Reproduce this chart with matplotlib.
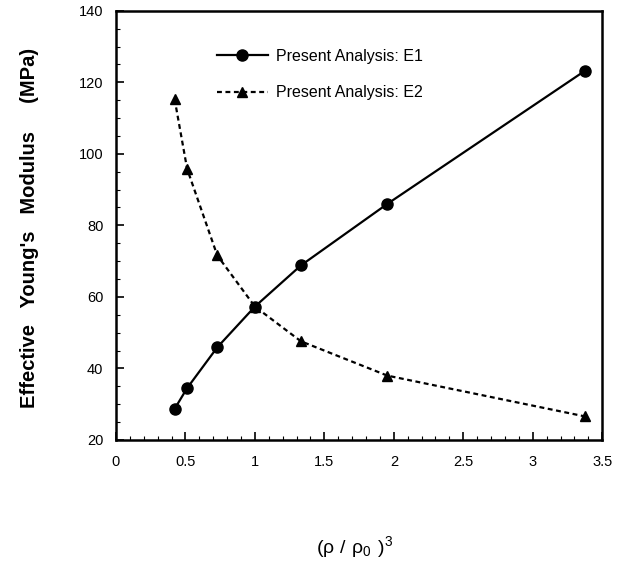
import matplotlib
matplotlib.use("Agg")
import matplotlib.pyplot as plt
from matplotlib.ticker import MultipleLocator

# (rho/rho0)^3 values and moduli
x_vals = [0.422, 0.512, 0.729, 1.0, 1.331, 1.953, 3.375]
e1_vals = [28.7, 34.5, 45.9, 57.3, 68.8, 86.0, 123.2]
e2_vals = [115.3, 95.8, 71.6, 57.3, 47.6, 38.0, 26.6]

plt.rcParams["font.family"] = ["Liberation Sans", "DejaVu Sans"]

fig = plt.figure(figsize=(6.17, 5.67), dpi=100)
ax = fig.add_axes([0.188, 0.224, 0.788, 0.757])

ax.plot(x_vals, e1_vals, "-", color="black", lw=1.6, marker="o", ms=8,
        label="Present Analysis: E1")
ax.plot(x_vals, e2_vals, color="black", lw=1.6, ls=(0, (2.2, 1.6)), marker="^", ms=7,
        label="Present Analysis: E2")

ax.set_xlim(0, 3.5)
ax.set_ylim(20, 140)
ax.xaxis.set_major_locator(MultipleLocator(0.5))
ax.xaxis.set_minor_locator(MultipleLocator(0.1))
ax.yaxis.set_major_locator(MultipleLocator(20))
ax.yaxis.set_minor_locator(MultipleLocator(5))
ax.set_xticks([0, 0.5, 1, 1.5, 2, 2.5, 3, 3.5])
ax.set_xticklabels(["0", "0.5", "1", "1.5", "2", "2.5", "3", "3.5"])

ax.tick_params(which="major", direction="in", length=6, width=1.2, labelsize=10.5)
ax.tick_params(axis="x", which="major", pad=11)
ax.tick_params(axis="y", which="major", pad=9)
ax.tick_params(which="minor", direction="in", length=3, width=0.8)
ax.tick_params(top=False, right=False, which="both")
for s in ax.spines.values():
    s.set_linewidth(1.8)

ax.set_ylabel("Effective   Young's   Modulus     (MPa)", fontsize=14.5, fontweight="bold")
ax.yaxis.set_label_coords(-0.158, 0.495)
ax.set_xlabel(r"$\mathregular{(\rho\ /\ \rho_0\ )^3}$", fontsize=14)
ax.xaxis.set_label_coords(0.49, -0.22)

ax.legend(loc="upper left", bbox_to_anchor=(0.178, 0.945), frameon=False, fontsize=11.5,
          handlelength=3.2, handletextpad=0.5, labelspacing=1.35)

plt.savefig("out.png", dpi=100)
plt.close()
